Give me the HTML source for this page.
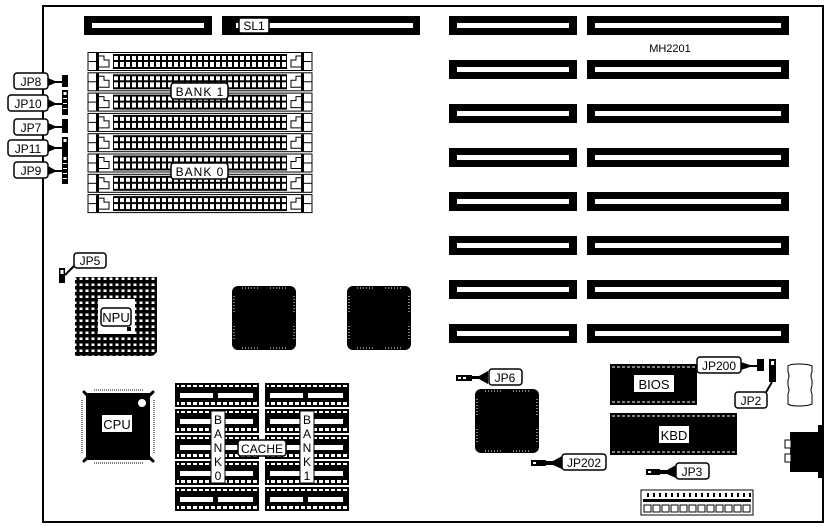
<!DOCTYPE html>
<html><head><meta charset="utf-8"><style>
html,body{margin:0;padding:0;background:#fff;width:828px;height:527px;overflow:hidden}
svg{display:block}
text{font-family:"Liberation Sans",sans-serif;fill:#000}
</style></head><body>
<svg width="828" height="527" viewBox="0 0 828 527" xmlns="http://www.w3.org/2000/svg">
<defs>
<pattern id="teeth" x="113" y="54" width="6" height="15" patternUnits="userSpaceOnUse">
<rect x="0" y="0" width="6" height="15" fill="#000"/>
<rect x="1" y="2" width="4" height="4" fill="#fff"/>
<rect x="1" y="8" width="4" height="5" fill="#fff"/>
</pattern>
<pattern id="dots" x="0" y="0" width="6" height="6" patternUnits="userSpaceOnUse">
<rect width="6" height="6" fill="#000"/><rect x="1.5" y="1.5" width="3" height="2.5" fill="#fff"/>
</pattern>
<pattern id="cachep" x="0" y="0" width="6" height="10" patternUnits="userSpaceOnUse">
<rect width="6" height="10" fill="#000"/><rect x="1" y="2" width="4" height="5" fill="#fff"/>
</pattern>
</defs>
<path d="M43 6 V522 H823 V6 Z" fill="none" stroke="#000" stroke-width="2"/>
<rect x="84" y="16" width="128" height="19" fill="#000"/><rect x="92" y="23" width="112" height="5" fill="#fff"/>
<rect x="222" y="16" width="198" height="19" fill="#000"/><rect x="229" y="23" width="184" height="5" fill="#fff"/>
<rect x="229" y="22" width="7" height="7" fill="#000"/>
<rect x="239" y="18" width="30" height="15" rx="2" fill="#fff" stroke="#000" stroke-width="1.5"/>
<text x="254" y="30" font-size="12" text-anchor="middle">SL1</text>
<g fill="#000">
<rect x="449" y="16" width="128" height="19"/><rect x="587" y="16" width="202" height="19"/>
<rect x="449" y="60" width="128" height="19"/><rect x="587" y="60" width="202" height="19"/>
<rect x="449" y="104" width="128" height="19"/><rect x="587" y="104" width="202" height="19"/>
<rect x="449" y="148" width="128" height="19"/><rect x="587" y="148" width="202" height="19"/>
<rect x="449" y="192" width="128" height="19"/><rect x="587" y="192" width="202" height="19"/>
<rect x="449" y="236" width="128" height="19"/><rect x="587" y="236" width="202" height="19"/>
<rect x="449" y="280" width="128" height="19"/><rect x="587" y="280" width="202" height="19"/>
<rect x="449" y="324" width="128" height="19"/><rect x="587" y="324" width="202" height="19"/>
</g>
<g fill="#fff">
<rect x="457" y="23" width="112" height="5"/><rect x="595" y="23" width="186" height="5"/>
<rect x="457" y="67" width="112" height="5"/><rect x="595" y="67" width="186" height="5"/>
<rect x="457" y="111" width="112" height="5"/><rect x="595" y="111" width="186" height="5"/>
<rect x="457" y="155" width="112" height="5"/><rect x="595" y="155" width="186" height="5"/>
<rect x="457" y="199" width="112" height="5"/><rect x="595" y="199" width="186" height="5"/>
<rect x="457" y="243" width="112" height="5"/><rect x="595" y="243" width="186" height="5"/>
<rect x="457" y="287" width="112" height="5"/><rect x="595" y="287" width="186" height="5"/>
<rect x="457" y="331" width="112" height="5"/><rect x="595" y="331" width="186" height="5"/>
</g>
<text x="670" y="52" font-size="11" text-anchor="middle">MH2201</text>
<g id="simm">
<rect x="88" y="52.5" width="224" height="18" fill="#fff" stroke="#000"/>
<line x1="88" y1="61.5" x2="96" y2="61.5" stroke="#000"/>
<rect x="96" y="53" width="3" height="17" fill="#000"/>
<path d="M99 56 h5 v4 h5 v7 h-10" fill="none" stroke="#000"/>
<rect x="113" y="54" width="174" height="15" fill="url(#teeth)"/>
<path d="M301 56 h-5 v4 h-5 v7 h10" fill="none" stroke="#000"/>
<rect x="301" y="53" width="3" height="17" fill="#000"/>
<line x1="304" y1="61.5" x2="312" y2="61.5" stroke="#000"/>
</g>
<use href="#simm" y="20.3"/><use href="#simm" y="40.6"/><use href="#simm" y="60.9"/>
<use href="#simm" y="81.2"/><use href="#simm" y="101.5"/><use href="#simm" y="121.8"/><use href="#simm" y="142.1"/>
<rect x="171" y="83" width="57" height="16" rx="3" fill="#fff" stroke="#000" stroke-width="1.5"/>
<text x="200" y="96" font-size="12" text-anchor="middle" letter-spacing="1">BANK 1</text>
<rect x="171" y="163" width="57" height="16" rx="3" fill="#fff" stroke="#000" stroke-width="1.5"/>
<text x="200" y="176" font-size="12" text-anchor="middle" letter-spacing="1">BANK 0</text>
<g stroke="#000" stroke-width="1.5" fill="#fff">
<rect x="14" y="73" width="34" height="16" rx="3"/>
<rect x="8" y="95" width="40" height="16" rx="3"/>
<rect x="14" y="119" width="34" height="16" rx="3"/>
<rect x="8" y="140" width="40" height="16" rx="3"/>
<rect x="14" y="162" width="34" height="16" rx="3"/>
</g>
<g font-size="12" text-anchor="middle">
<text x="31" y="86">JP8</text><text x="28" y="108">JP10</text><text x="31" y="132">JP7</text>
<text x="28" y="153">JP11</text><text x="31" y="175">JP9</text>
</g>
<g fill="#000">
<path d="M48 78 L55 81 H62 V83 H55 L48 86Z"/>
<path d="M48 99 L55 103 H62 V105 H55 L48 108Z"/>
<path d="M48 123 L55 126 H62 V128 H55 L48 131Z"/>
<path d="M48 144 L55 147 H62 V149 H55 L48 152Z"/>
<path d="M48 166 L55 170 H62 V172 H55 L48 175Z"/>
<rect x="62" y="75" width="6" height="12"/>
<rect x="62" y="90" width="6" height="25"/>
<rect x="62" y="119" width="6" height="14"/>
<rect x="62" y="137" width="6" height="18"/>
<rect x="62" y="155" width="6" height="29"/>
</g>
<g fill="#fff"><rect x="63.5" y="92" width="3" height="3"/><rect x="63.5" y="139" width="3" height="3"/><rect x="63.5" y="157" width="3" height="3"/>
<rect x="63" y="98" width="4" height="1"/><rect x="63" y="103" width="4" height="1"/><rect x="63" y="108" width="4" height="1"/>
<rect x="63" y="163" width="4" height="1"/><rect x="63" y="168" width="4" height="1"/><rect x="63" y="173" width="4" height="1"/><rect x="63" y="178" width="4" height="1"/></g>
<rect x="59" y="268" width="6" height="15" fill="#000"/><rect x="60.5" y="270" width="3" height="4" fill="#fff"/>
<path d="M65 275 L74 266" stroke="#000" stroke-width="2"/>
<rect x="74" y="253" width="32" height="15" rx="3" fill="#fff" stroke="#000" stroke-width="1.5"/>
<text x="90" y="265" font-size="12" text-anchor="middle">JP5</text>
<path d="M75 277 H157 V352 L153 356 H75 Z" fill="url(#dots)"/>
<rect x="98" y="299" width="37" height="35" fill="#fff"/>
<rect x="101" y="308" width="30" height="18" rx="3" fill="#fff" stroke="#000" stroke-width="1.5"/>
<text x="116" y="322" font-size="13" text-anchor="middle">NPU</text>
<rect x="127" y="327" width="4" height="4" fill="#000"/>
<g id="chip">
<rect x="232" y="286" width="64" height="64" rx="6" fill="#000"/>
<g stroke="#fff" stroke-width="1" stroke-dasharray="1,2">
<line x1="234" y1="296" x2="234" y2="312"/><line x1="234" y1="326" x2="234" y2="340"/>
<line x1="294" y1="296" x2="294" y2="312"/><line x1="294" y1="326" x2="294" y2="340"/>
<line x1="242" y1="288" x2="258" y2="288"/><line x1="270" y1="288" x2="286" y2="288"/>
<line x1="242" y1="348" x2="258" y2="348"/><line x1="270" y1="348" x2="286" y2="348"/>
</g>
</g>
<use href="#chip" x="115"/>
<use href="#chip" x="243" y="103"/>
<rect x="86" y="393" width="64" height="67" fill="#000"/>
<g stroke="#000" stroke-width="3" stroke-linecap="round"><line x1="84" y1="392" x2="153" y2="461"/><line x1="153" y1="392" x2="84" y2="461"/></g>
<g stroke="#000" stroke-width="1" stroke-dasharray="1,1"><line x1="82" y1="400" x2="82" y2="454"/><line x1="154" y1="400" x2="154" y2="454"/><line x1="94" y1="390" x2="144" y2="390"/><line x1="94" y1="463" x2="144" y2="463"/></g>
<circle cx="142" cy="403" r="4" fill="#fff"/>
<rect x="102" y="415" width="30" height="17" fill="#fff"/>
<text x="117" y="429" font-size="13" text-anchor="middle">CPU</text>
<g id="crow">
<rect x="175" y="383" width="84" height="24" fill="#000"/>
<rect x="177" y="385" width="80" height="4" fill="url(#cachep)"/>
<rect x="180" y="393" width="33" height="5" fill="#fff"/><rect x="218" y="393" width="35" height="5" fill="#fff"/>
<rect x="177" y="401" width="80" height="4" fill="url(#cachep)"/>
<rect x="265" y="383" width="84" height="24" fill="#000"/>
<rect x="267" y="385" width="80" height="4" fill="url(#cachep)"/>
<rect x="270" y="393" width="33" height="5" fill="#fff"/><rect x="308" y="393" width="35" height="5" fill="#fff"/>
<rect x="267" y="401" width="80" height="4" fill="url(#cachep)"/>
</g>
<use href="#crow" y="26"/><use href="#crow" y="52"/><use href="#crow" y="78"/><use href="#crow" y="104"/>
<rect x="211" y="411" width="14" height="72" fill="#fff" stroke="#000"/>
<text font-size="12" text-anchor="middle"><tspan x="218" y="424">B</tspan><tspan x="218" y="438">A</tspan><tspan x="218" y="452">N</tspan><tspan x="218" y="466">K</tspan><tspan x="218" y="480">0</tspan></text>
<rect x="300" y="411" width="14" height="72" fill="#fff" stroke="#000"/>
<text font-size="12" text-anchor="middle"><tspan x="307" y="424">B</tspan><tspan x="307" y="438">A</tspan><tspan x="307" y="452">N</tspan><tspan x="307" y="466">K</tspan><tspan x="307" y="480">1</tspan></text>
<rect x="238" y="440" width="48" height="16" rx="3" fill="#fff" stroke="#000" stroke-width="1.5"/>
<text x="262" y="453" font-size="12" text-anchor="middle">CACHE</text>
<rect x="456" y="375" width="16" height="6" fill="#000"/><rect x="458" y="377" width="3" height="2" fill="#fff"/><rect x="463" y="377" width="3" height="2" fill="#fff"/>
<path d="M472 376 H479 L488 371 V384 L479 379 H472Z" fill="#000"/>
<rect x="489" y="369" width="33" height="16" rx="3" fill="#fff" stroke="#000" stroke-width="1.5"/>
<text x="505" y="382" font-size="12" text-anchor="middle">JP6</text>
<rect x="610" y="364" width="87" height="41" fill="#000"/>
<line x1="612" y1="367" x2="695" y2="367" stroke="#fff" stroke-dasharray="3,2"/>
<line x1="612" y1="402" x2="695" y2="402" stroke="#fff" stroke-dasharray="3,2"/>
<rect x="634" y="375" width="40" height="17" fill="#fff"/>
<text x="654" y="389" font-size="13" text-anchor="middle">BIOS</text>
<rect x="697" y="357" width="44" height="16" rx="3" fill="#fff" stroke="#000" stroke-width="1.5"/>
<text x="719" y="370" font-size="12" text-anchor="middle">JP200</text>
<path d="M741 362 L750 365 H757 V367 H750 L741 370Z" fill="#000"/>
<rect x="757" y="359" width="7" height="12" fill="#000"/>
<rect x="769" y="359" width="7" height="23" fill="#000"/><rect x="771" y="361" width="3" height="4" fill="#fff"/>
<path d="M772 382 L765 394" stroke="#000" stroke-width="2"/>
<rect x="735" y="392" width="32" height="16" rx="3" fill="#fff" stroke="#000" stroke-width="1.5"/>
<text x="751" y="405" font-size="12" text-anchor="middle">JP2</text>
<path d="M788 366 Q790 364 799 364 Q808 364 812 366 L812 372 Q810 376 812 380 L812 386 Q810 390 812 394 L812 404 Q808 406 799 406 Q790 406 788 404 L788 394 Q790 390 788 386 L788 380 Q790 376 788 372Z" fill="#fff" stroke="#000"/>
<rect x="610" y="413" width="127" height="42" fill="#000"/>
<line x1="612" y1="416" x2="735" y2="416" stroke="#fff" stroke-dasharray="3,2"/>
<line x1="612" y1="452" x2="735" y2="452" stroke="#fff" stroke-dasharray="3,2"/>
<rect x="659" y="426" width="30" height="17" fill="#fff"/>
<text x="674" y="440" font-size="13" text-anchor="middle">KBD</text>
<rect x="531" y="460" width="15" height="6" fill="#000"/><rect x="533" y="462" width="3" height="2" fill="#fff"/>
<path d="M546 461 H553 L562 456 V469 L553 465 H546Z" fill="#000"/>
<rect x="562" y="454" width="44" height="16" rx="3" fill="#fff" stroke="#000" stroke-width="1.5"/>
<text x="584" y="467" font-size="12" text-anchor="middle">JP202</text>
<rect x="646" y="469" width="14" height="6" fill="#000"/><rect x="648" y="471" width="3" height="2" fill="#fff"/>
<path d="M660 470 H667 L676 465 V478 L667 474 H660Z" fill="#000"/>
<rect x="676" y="463" width="33" height="16" rx="3" fill="#fff" stroke="#000" stroke-width="1.5"/>
<text x="692" y="476" font-size="12" text-anchor="middle">JP3</text>
<rect x="641" y="490" width="112" height="25" fill="#fff" stroke="#000"/>
<rect x="643" y="493" width="108" height="4" fill="url(#cachep)"/>
<rect x="643" y="499" width="108" height="3" fill="#000"/>
<g fill="#fff" stroke="#000"><rect x="644" y="505" width="7" height="7"/><rect x="653" y="505" width="7" height="7"/><rect x="662" y="505" width="7" height="7"/><rect x="671" y="505" width="7" height="7"/><rect x="680" y="505" width="7" height="7"/><rect x="689" y="505" width="7" height="7"/><rect x="698" y="505" width="7" height="7"/><rect x="707" y="505" width="7" height="7"/><rect x="716" y="505" width="7" height="7"/><rect x="725" y="505" width="7" height="7"/><rect x="734" y="505" width="7" height="7"/><rect x="743" y="505" width="7" height="7"/></g>
<path d="M790 432 H818 V425 H823 V478 H818 V472 H790Z" fill="#000"/>
<rect x="785" y="440" width="6" height="8" fill="#fff" stroke="#000"/>
<rect x="785" y="454" width="6" height="8" fill="#fff" stroke="#000"/>
</svg>
</body></html>
